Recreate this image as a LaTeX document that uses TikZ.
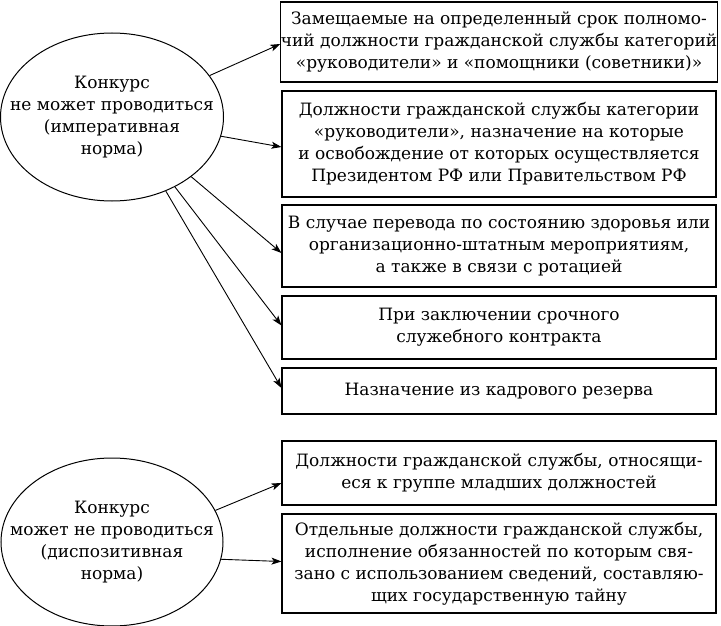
\documentclass[tikz,border=0pt]{standalone}
\usepackage{fontspec}
\setmainfont{DejaVu Serif}
\usetikzlibrary{arrows.meta,shapes.geometric}
\begin{document}
\begin{tikzpicture}[x=1pt,y=-1pt,
  txt/.style={font=\fontsize{17}{22}\selectfont, align=center, inner sep=0pt, text=black},
  box/.style={txt, draw=black, line width=1.1pt, minimum width=434pt},
  oval/.style={draw=black, ellipse, line width=1pt, inner sep=0pt},
  arr/.style={-{Stealth[length=10pt,width=7pt,inset=2.5pt]}, line width=0.9pt}]
\useasboundingbox (0,0) rectangle (721,626);
% boxes
\node[box, minimum height=80pt] (b1) at (499,42) {Замещаемые на определенный срок полномо-\\чий должности гражданской службы категорий\\«руководители» и «помощники (советники)»};
\node[box, minimum height=106pt] (b2) at (499,144) {Должности гражданской службы категории\\«руководители», назначение на которые\\и освобождение от которых осуществляется\\Президентом РФ или Правительством РФ};
\node[box, minimum height=82pt] (b3) at (499,246) {В случае перевода по состоянию здоровья или\\организационно-штатным мероприятиям,\\а также в связи с ротацией};
\node[box, minimum height=63pt] (b4) at (499,327.5) {При заключении срочного\\служебного контракта};
\node[box, minimum height=46pt] (b5) at (499,391) {Назначение из кадрового резерва};
\node[box, minimum height=64pt] (b6) at (499,473) {Должности гражданской службы, относящи-\\еся к группе младших должностей};
\node[box, minimum height=99pt] (b7) at (499,563.5) {Отдельные должности гражданской службы,\\исполнение обязанностей по которым свя-\\зано с использованием сведений, составляю-\\щих государственную тайну};
% ellipses
\node[oval, minimum width=223pt, minimum height=168pt] (e1) at (112,117) {};
\node[txt] (e1t) at (e1.center) {Конкурс\\не может проводиться\\(императивная\\норма)};
\node[oval, minimum width=222pt, minimum height=168pt] (e2) at (112,542) {};
\node[txt] (e2t) at (e2.center) {Конкурс\\может не проводиться\\(диспозитивная\\норма)};
% arrows
\draw[arr] (e1.23) -- ([yshift=-2pt]b1.west);
\draw[arr] (e1.-10) -- ([yshift=-3pt]b2.west);
\draw[arr] (e1.-37) -- ([yshift=-7pt]b3.west);
\draw[arr] (e1.-48) -- ([yshift=2pt]b4.west);
\draw[arr] (e1.-54) -- ([yshift=3pt]b5.west);
\draw[arr] (e2.17) -- ([yshift=-10pt]b6.west);
\draw[arr] (e2.-9) -- ([yshift=2pt]b7.west);
\end{tikzpicture}
\end{document}
